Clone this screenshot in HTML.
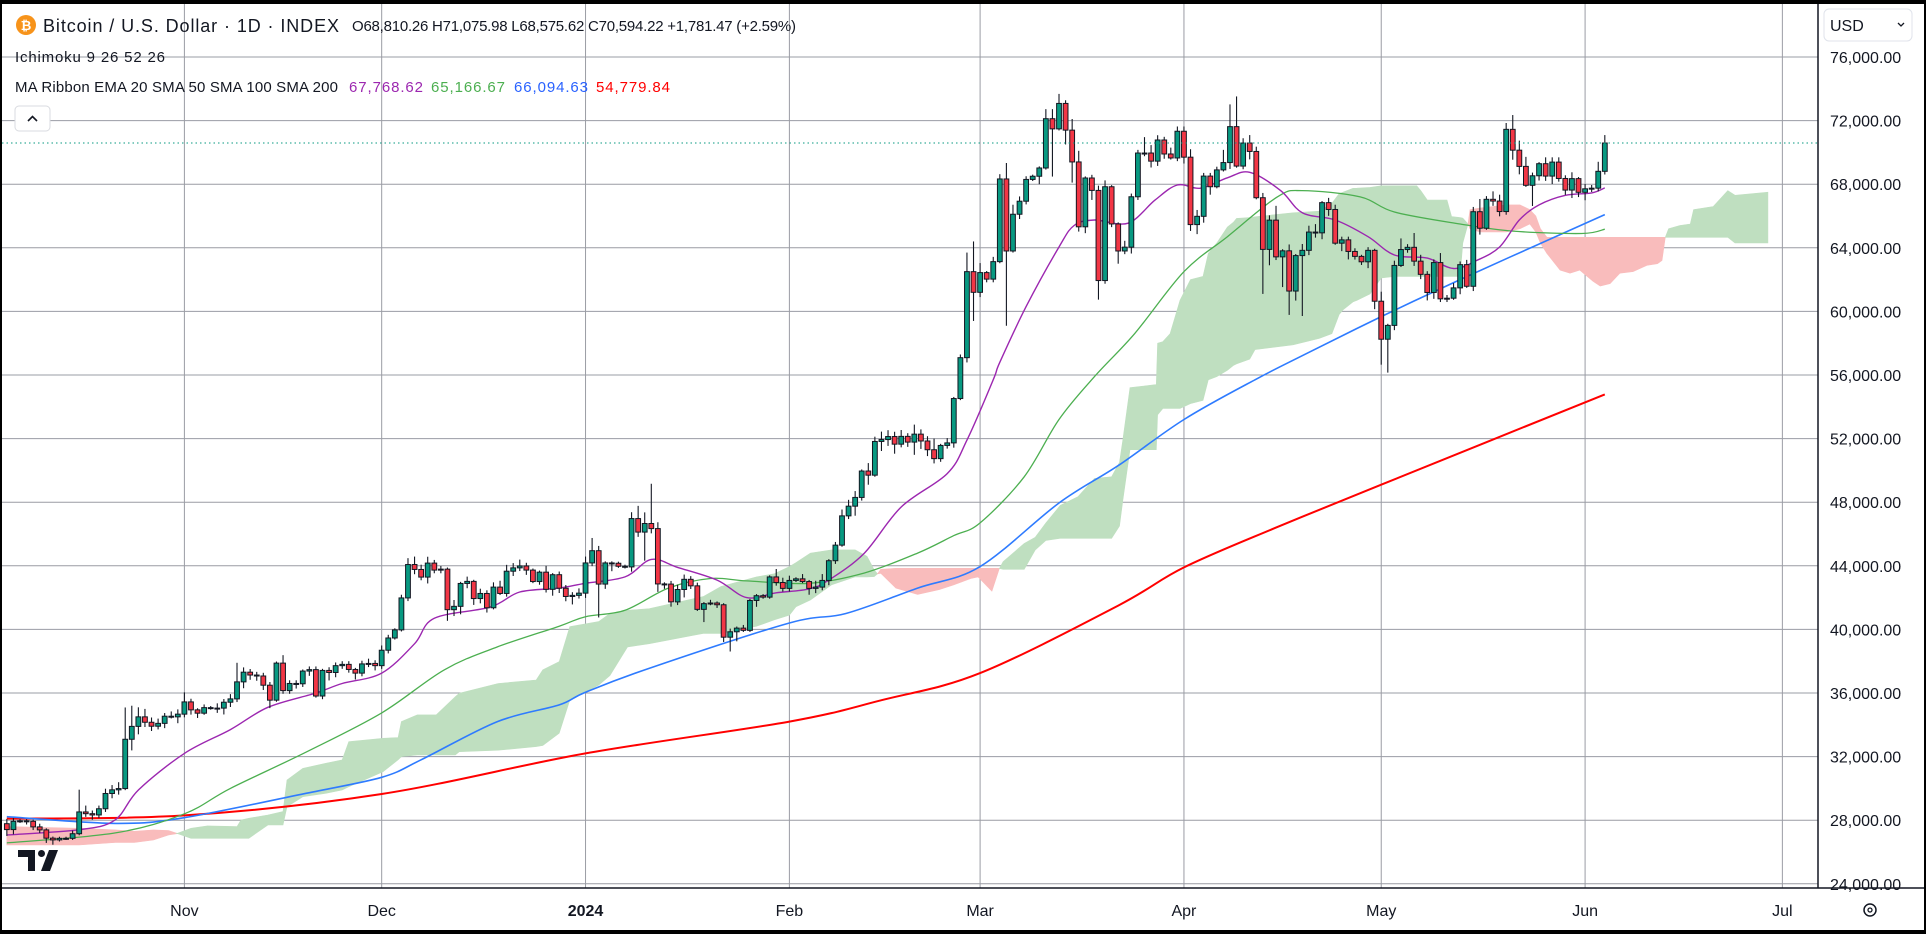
<!DOCTYPE html>
<html><head><meta charset="utf-8"><style>
html,body{margin:0;padding:0;background:#000;}
svg{display:block;}
text{font-family:"Liberation Sans",sans-serif;}
</style></head><body>
<svg id="chart" xmlns="http://www.w3.org/2000/svg" width="1926" height="934" viewBox="0 0 1926 934">
<rect x="2" y="4" width="1922" height="926" fill="#ffffff"/>
<g id="grid"></g>
<g id="cloud"></g>
<g id="mas"></g>
<g id="candles"></g>
<line x1="2" y1="143" x2="1818" y2="143" stroke="#089981" stroke-width="1" stroke-dasharray="1.5,3"/>
<g id="axes"></g>
<line x1="1818" y1="4" x2="1818" y2="888" stroke="#131722" stroke-width="1.5"/>
<line x1="2" y1="888" x2="1924" y2="888" stroke="#131722" stroke-width="1.5"/>

<g>
<circle cx="26" cy="25" r="10" fill="#F7931A"/>
<text x="26" y="30" font-size="13" font-weight="bold" fill="#fff" text-anchor="middle">₿</text>
<text x="43" y="32" font-size="18" fill="#131722" textLength="296">Bitcoin / U.S. Dollar · 1D · INDEX</text>
<text x="352" y="31" font-size="15" fill="#131722" textLength="444">O68,810.26 H71,075.98 L68,575.62 C70,594.22 +1,781.47 (+2.59%)</text>
<text x="15" y="62" font-size="15" fill="#131722" textLength="150">Ichimoku 9 26 52 26</text>
<text x="15" y="92" font-size="15" fill="#131722" textLength="323">MA Ribbon EMA 20 SMA 50 SMA 100 SMA 200</text>
<text x="349" y="92" font-size="15" fill="#9C27B0" textLength="74">67,768.62</text>
<text x="431" y="92" font-size="15" fill="#4CAF50" textLength="74">65,166.67</text>
<text x="514" y="92" font-size="15" fill="#2962FF" textLength="74">66,094.63</text>
<text x="596" y="92" font-size="15" fill="#FF0000" textLength="74">54,779.84</text>
<g>
<rect x="15" y="106" width="35" height="25" rx="4" fill="#fff" stroke="#d9dbe0"/>
<path d="M28 121 L32.5 116.5 L37 121" fill="none" stroke="#131722" stroke-width="1.6"/>
</g>
</g>

<g>
<rect x="1824" y="9" width="88" height="32" rx="5" fill="#fff" stroke="#e0e3eb"/>
<text x="1830" y="31" font-size="16" fill="#131722">USD</text>
<path d="M1898 23 L1901 26 L1904 23" fill="none" stroke="#131722" stroke-width="1.3"/>
</g>

<g>
<path d="M18 850 H35 V871 H28 V857 H18 Z" fill="#131722"/>
<circle cx="41.5" cy="853.5" r="3.5" fill="#131722"/>
<path d="M49 850 H58 L50 871 H41 Z" fill="#131722"/>
</g>

<g>
<circle cx="1870" cy="910" r="6" fill="none" stroke="#131722" stroke-width="1.5"/>
<circle cx="1870" cy="910" r="2" fill="none" stroke="#131722" stroke-width="1.3"/>
</g>
</svg>
<script>
// ---- data (thousands USD) ----
const startDay = -27; // Oct 5 2023, day 0 = Nov 1 2023
const firstOpen = 27.78;
const closesOct = [27.41,27.93,27.96,27.93,27.58,27.39,26.87,26.76,26.86,26.86,27.15,28.52,28.41,28.33,28.72,29.68,29.91,29.99,33.09,33.90,34.50,34.16,33.91,34.09,34.54,34.50,34.67];
const closesNov = [35.44,34.94,34.73,35.08,35.05,35.05,35.42,35.63,36.70,37.31,37.13,37.07,36.49,35.55,37.88,36.15,36.60,36.58,37.38,37.47,35.81,37.42,37.29,37.72,37.80,37.48,37.25,37.83,37.86,37.72];
const closesDec = [38.69,39.46,39.97,41.98,44.08,43.77,43.29,44.17,43.73,43.79,41.24,41.45,42.89,43.02,41.94,42.26,41.36,42.66,42.26,43.66,43.87,43.99,43.73,43.01,43.60,42.52,43.44,42.59,42.07,42.14,42.28];
const closesJan = [44.18,44.95,42.85,44.18,44.16,43.97,43.93,46.97,46.12,46.66,46.34,42.86,42.85,41.73,42.51,43.15,42.74,41.26,41.62,41.66,41.55,39.51,39.85,40.08,39.94,41.82,42.12,42.03,43.30,42.95,42.58];
const closesFeb = [43.08,43.18,43.01,42.58,42.66,43.08,44.32,45.30,47.14,47.75,48.30,49.96,49.70,51.82,51.94,52.13,51.65,52.14,51.78,52.28,51.85,51.30,50.74,51.57,51.73,54.52,57.09,62.50,61.20];
const closesMar = [62.44,62.03,63.13,68.33,63.80,66.11,66.93,68.30,68.50,69.02,72.12,71.48,73.08,71.40,69.40,65.32,68.39,67.61,61.94,67.84,65.50,63.80,64.04,67.21,69.96,69.96,69.45,70.78,69.90,69.65,71.33];
const closesApr = [69.70,65.46,65.98,68.51,67.84,68.90,69.36,71.62,69.14,70.59,70.06,67.15,63.90,65.74,63.43,63.81,61.28,63.51,63.84,64.99,64.94,66.84,66.41,64.29,64.50,63.77,63.46,63.12,63.84,60.64];
const closesMay = [58.25,59.12,62.89,63.89,64.03,63.16,62.33,61.19,63.07,60.79,60.83,61.48,62.94,61.58,66.27,65.23,67.05,66.94,66.28,71.45,70.14,69.12,67.93,68.53,69.29,68.51,69.39,68.36,67.63,68.35,67.49];
const closesJun = [67.71,67.75,68.81,70.59];

const wickUp = [.3,.2,.1,.1,.1,.2,.1,.1,.1,.1,.2,1.4,.4,.2,.2,.3,.3,.4,2.0,1.3,.6,.5,.3,.3,.2,.3,.3,
 .6,.2,.1,.2,.1,.3,.2,.3,1.2,.3,.2,.2,.2,.2,.1,.5,.2,.2,.1,.2,.2,.1,.2,.2,.2,.2,.1,.2,.3,.2,
 .3,.2,.1,.2,.4,.5,.3,.4,.2,.2,.1,.4,.1,.3,.1,.3,.2,.3,.4,.4,.3,.4,.2,.1,.1,.4,.1,.2,.2,.2,.3,
 .4,.8,.3,.1,.1,.1,.1,.4,.8,.7,2.5,.4,.1,.2,.3,.3,.2,.2,.1,.2,.1,.1,.2,.1,.2,.1,.1,.1,.1,.5,.3,
 .3,.1,.3,.1,.4,.4,.1,.2,.4,.4,.4,.1,.5,.3,.5,.4,.3,.4,.2,.6,.3,.3,.7,.1,.3,.1,.2,1.2,1.9,
 .6,.1,.3,.3,1.0,.6,.3,.2,.1,.1,.6,.6,.6,.2,.7,.7,.1,.2,.3,.4,.1,.1,.4,.2,.2,1.0,.5,.3,.2,.4,.3,
 .3,.5,.4,.2,.2,.2,.8,1.4,1.9,.3,.5,.3,.3,.3,.9,.1,.4,.1,.4,.4,.5,.1,.3,.3,.2,.2,.2,.1,.2,.1,
 .6,.1,.3,.7,.2,.9,.4,.2,.2,.6,.2,.3,.2,.3,.3,.8,.2,.5,.4,.4,.9,.6,.6,.2,.1,.4,.3,.3,.2,.4,.1,
 .3,.2,.6,.5];
const wickDn = [.4,.3,.1,.2,.2,.2,.3,.3,.1,.1,.1,.1,.2,.3,.2,.2,.3,.3,.1,.7,.5,.3,.3,.2,.3,.1,.4,
 .2,.3,.3,.1,.1,.3,.4,.3,.2,.4,.3,.3,.3,.5,.1,.2,.2,.3,.2,.3,.1,.2,.5,.3,.2,.2,.4,.2,.2,.3,
 .2,.2,.1,.1,.2,.3,.2,.4,.2,.2,.7,.4,.5,.3,.4,.3,.3,.1,.1,.2,.3,.2,.3,.1,.2,.2,.4,.3,.3,.5,.2,
 .3,.2,2.1,.3,.5,.1,.1,.3,.3,1.8,.3,.5,.3,.3,.2,.5,.2,.1,.8,.1,.2,.3,.9,.6,.1,.1,.4,.1,.1,.2,.2,
 .2,.1,.1,.4,.3,.2,.3,.2,.1,.2,.6,.2,.6,.1,.6,.4,.6,.2,.3,.8,.5,.4,.3,.2,.2,.3,.1,.3,1.8,
 .3,.2,.2,.1,4.7,.1,.3,.2,.1,.5,.1,3.0,.1,.9,1.3,.3,.4,.6,1.2,.2,.2,.8,.2,.4,.2,.2,.4,.3,.3,.1,.2,
 .4,.4,.6,.4,.5,.1,.1,.4,.1,.2,.5,.1,2.8,1.0,.2,1.9,1.5,.6,3.8,.3,.3,.4,.4,.1,.5,.5,.2,.2,.4,.5,
 1.6,2.1,.3,.1,.2,.3,.3,.5,.4,.2,.2,.1,.4,.1,.3,.4,.1,.3,.3,.2,.6,.5,.1,1.3,.3,.3,.5,.2,.3,.5,.3,
 .5,.2,.2,.2];

const ema20Days = [-27,-16,-10.6,-7,0,7,12.7,20,24,30,35,38,46.5,51,57,61,67,71,75,81,85.5,90,95,98,103.4,109,116,119,123,124,128,133,135.3,138.4,143.5,147.6,151,154.5,158.6,162,166.7,170,175,180,184,189,193,196.5,200,203,206,210,214,216];
const ema20Vals = [27.07,27.4,28.0,29.9,32.2,33.7,35.1,36.0,36.6,37.25,39.1,40.7,41.4,42.35,42.6,42.9,43.3,44.4,43.9,43.1,42.0,42.3,42.55,43.1,44.8,47.7,49.8,51.9,55.7,56.8,60.3,64.05,65.4,65.75,65.55,67.0,67.95,67.75,68.4,68.75,67.6,66.2,65.75,64.7,63.55,63.35,62.7,63.2,64.05,65.75,66.7,67.3,67.45,67.77];
const sma50Days = [-27,-10.5,0,7,18.6,30,39.5,47.6,57,61,67,73.6,80,85.5,95,103.4,111.5,117,121,127.7,133,138.4,144.5,152,158.6,166.2,170,178.8,184,194,202,212.5,216];
const sma50Vals = [26.57,27.2,28.4,30.0,32.3,34.75,37.45,38.9,40.2,40.8,41.2,42.6,43.2,43.05,42.9,43.55,44.8,45.9,46.7,49.6,53.2,55.9,58.6,62.5,64.7,67.2,67.6,67.2,66.25,65.5,65.05,64.9,65.17];
const sma100Days = [-27,-10.5,0,18.6,30,36,47.6,57,61,71,92,100.6,111.5,121,133,142,152,162.8,170.4,182,194,205,216];
const sma100Vals = [28.22,27.8,28.16,29.7,30.7,31.8,34.2,35.25,36.05,37.6,40.4,41.0,42.6,43.95,47.95,50.3,53.2,55.7,57.3,59.67,62.0,64.05,66.09];
const sma200Days = [-27,0,30,61,92,106,121,142,152,166,182,216];
const sma200Vals = [28.1,28.3,29.65,32.2,34.2,35.55,37.25,41.5,43.9,46.4,49.1,54.78];

const cloudDays = [-27,-16,-10.5,-7.6,-4.7,-2.4,-1.2,1,3.5,8,8.6,9.8,12.7,15,15.6,18,21.5,24,25,30.2,32.5,33,35.4,38.3,41.2,41.8,47.7,53.5,54.5,57,58.6,63,64.7,67.4,70.7,78.9,81.6,87,89.7,92,93,95.2,98.4,102,103.8,104.9,105.4,105.9,108.2,111.5,114.8,117,119.6,120.7,122.8,123.9,124.5,127.7,129.4,131,133.2,135.9,138.4,141,142.2,142.7,143.8,147.8,148,148.8,149.9,151.4,153,154.9,155.7,157,158.6,159.5,160,162,162.8,168.6,172.6,174.5,175.6,176.2,177.7,178.3,180.3,182,184,187.4,188,189,192,192.7,194,194.4,195.2,195.5,197,201,203.1,204.6,205.5,206.2,207.2,209.2,210.7,212.2,214.2,215.3,216.8,218.3,220.3,222.4,224,224.7,225.2,225.7,227.4,229,229.5,232.5,234.7,235.8,240.8];
const spanA = [26.44,26.44,26.6,26.6,26.76,27.07,27.15,27.49,27.64,27.6,28.01,28.12,28.33,28.54,30.53,31.26,31.58,31.79,32.94,33.15,33.2,34.2,34.62,34.62,35.77,35.98,36.6,36.82,37.45,37.97,40.17,40.49,41.0,41.2,41.3,42.06,42.7,43.3,43.5,43.95,44.2,44.8,45.0,45.0,44.6,43.74,43.5,43.53,42.6,42.2,42.5,42.8,43.2,43.3,42.4,43.8,44.26,45.4,45.8,46.7,47.8,48.35,49.5,49.6,50.5,51.9,55.2,55.4,58.0,58.1,58.6,60.7,62.0,62.2,63.65,64.3,65.3,65.6,65.85,65.9,65.95,66.2,66.3,66.8,67.4,67.5,67.74,67.75,67.8,67.9,67.9,67.9,67.6,67.0,67.0,65.96,65.9,65.87,65.5,65.2,65.0,65.0,65.2,65.5,65.0,64.3,63.65,62.6,62.4,62.6,61.9,61.6,61.75,62.4,62.5,62.9,63.0,63.2,64.66,65.2,65.4,65.5,66.4,66.6,67.6,67.3,67.5];
const spanB = [27.6,27.49,27.39,27.3,27.39,27.35,27.18,26.86,26.86,26.86,26.86,26.86,27.7,27.7,28.85,29.48,29.69,29.9,30.11,31.05,31.8,32.0,32.1,32.1,32.1,32.31,32.4,32.63,32.7,33.47,35.56,36.5,37.1,38.9,39.1,39.75,39.75,40.2,40.6,40.9,41.43,41.85,42.8,43.3,43.3,43.32,43.5,43.78,43.84,43.84,43.84,43.84,43.84,43.84,43.84,43.84,43.78,43.78,45.0,45.6,45.73,45.73,45.73,45.73,46.5,48.1,51.3,51.3,53.5,53.9,53.9,53.9,54.2,54.4,55.7,55.9,56.3,56.6,56.7,57.0,57.6,57.9,58.3,58.6,59.8,60.1,60.6,60.7,61.1,62.1,62.2,62.2,62.2,62.2,62.2,62.2,62.2,64.3,65.5,66.4,66.5,66.7,66.7,66.4,66.0,65.2,64.66,64.66,64.66,64.66,64.66,64.66,64.66,64.66,64.66,64.66,64.66,64.66,64.66,64.66,64.66,64.66,64.66,64.66,64.66,64.3,64.3];

const priceTicks = [76,72,68,64,60,56,52,48,44,40,36,32,28,24];
const priceTickLabels = ["76,000.00","72,000.00","68,000.00","64,000.00","60,000.00","56,000.00","52,000.00","48,000.00","44,000.00","40,000.00","36,000.00","32,000.00","28,000.00","24,000.00"];
const timeTickDays = [0,30,61,92,121,152,182,213,243];
const timeTickLabels = ["Nov","Dec","2024","Feb","Mar","Apr","May","Jun","Jul"];

// ---- scales ----
const NS = "http://www.w3.org/2000/svg";
function xDay(d){ return 184.4 + d*6.576; }
function yP(k){ return 57 + (76 - k)/4*63.6; }
function mk(tag, attrs, parent){
  const e = document.createElementNS(NS, tag);
  for (const k in attrs) e.setAttribute(k, attrs[k]);
  parent.appendChild(e);
  return e;
}

// grid + axes
const grid = document.getElementById('grid');
const axes = document.getElementById('axes');
priceTicks.forEach((p, i) => {
  const y = yP(p);
  const gl = mk('line', {x1:2, y1:y, x2:1818, y2:y, stroke:'#9a9ca4', 'stroke-width':1}, grid);
  
  
  const t = mk('text', {x:1830, y:y+6, 'font-size':16, fill:'#131722'}, axes);
  t.textContent = priceTickLabels[i];
  
  
});
timeTickDays.forEach((d, i) => {
  const x = xDay(d);
  const gl = mk('line', {x1:x, y1:4, x2:x, y2:888, stroke:'#9a9ca4', 'stroke-width':1}, grid);
  
  
  const t = mk('text', {x:x, y:916, 'font-size':16, fill:'#131722', 'text-anchor':'middle', 'font-weight': timeTickLabels[i]==='2024' ? 'bold' : 'normal'}, axes);
  t.textContent = timeTickLabels[i];
  
  
});

// cloud: group consecutive segments by colour
const cloud = document.getElementById('cloud');
let seg = null;
function flush(){
  if (!seg) return;
  const pts = seg.top.concat(seg.bot.reverse()).map(p => p[0].toFixed(1)+','+p[1].toFixed(1)).join(' ');
  const poly = mk('polygon', {points:pts, fill: seg.green ? '#bfdfc0' : '#f9bcbc', stroke: seg.green ? '#bfdfc0' : '#f9bcbc', 'stroke-width':0.6}, cloud);
  
  
  seg = null;
}
for (let i = 0; i < cloudDays.length - 1; i++){
  const green = (spanA[i] + spanA[i+1]) >= (spanB[i] + spanB[i+1]);
  if (!seg || seg.green !== green){
    flush();
    seg = {green, top:[[xDay(cloudDays[i]), yP(spanA[i])]], bot:[[xDay(cloudDays[i]), yP(spanB[i])]]};
  }
  seg.top.push([xDay(cloudDays[i+1]), yP(spanA[i+1])]);
  seg.bot.push([xDay(cloudDays[i+1]), yP(spanB[i+1])]);
}
flush();

// moving averages (smoothed Catmull-Rom through sampled values)
const mas = document.getElementById('mas');
function drawLine(days, vals, color, w, name){
  const P = days.map((d, i) => [xDay(d), yP(vals[i])]);
  let d = 'M' + P[0][0].toFixed(1) + ',' + P[0][1].toFixed(1);
  for (let i = 0; i < P.length - 1; i++){
    const p0 = P[Math.max(0, i-1)], p1 = P[i], p2 = P[i+1], p3 = P[Math.min(P.length-1, i+2)];
    const c1 = [p1[0] + (p2[0]-p0[0])/6, p1[1] + (p2[1]-p0[1])/6];
    const c2 = [p2[0] - (p3[0]-p1[0])/6, p2[1] - (p3[1]-p1[1])/6];
    d += ' C' + c1[0].toFixed(1)+','+c1[1].toFixed(1)+' '+c2[0].toFixed(1)+','+c2[1].toFixed(1)+' '+p2[0].toFixed(1)+','+p2[1].toFixed(1);
  }
  const pl = mk('path', {d:d, fill:'none', stroke:color, 'stroke-width':w, 'stroke-linejoin':'round'}, mas);
  
  
}
drawLine(sma200Days, sma200Vals, '#FF0000', 2, 'sma200-line');
drawLine(sma100Days, sma100Vals, '#2E7BFF', 1.6, 'sma100-line');
drawLine(sma50Days, sma50Vals, '#4CAF50', 1.3, 'sma50-line');
drawLine(ema20Days, ema20Vals, '#9C27B0', 1.4, 'ema20-line');

// candles
const closes = [].concat(closesOct, closesNov, closesDec, closesJan, closesFeb, closesMar, closesApr, closesMay, closesJun);
const cg = document.getElementById('candles');
let prev = firstOpen;
closes.forEach((c, i) => {
  const o = prev; prev = c;
  const d = startDay + i;
  const x = xDay(d);
  const hi = Math.max(o, c) + wickUp[i];
  const lo = Math.min(o, c) - wickDn[i];
  const g = mk('g', {}, cg);
  
  
  mk('line', {x1:x, y1:yP(hi), x2:x, y2:yP(lo), stroke:'#131722', 'stroke-width':1.1}, g);
  const top = yP(Math.max(o, c)), bot = yP(Math.min(o, c));
  mk('rect', {x:x-2.4, y:top, width:4.8, height:Math.max(1, bot-top), fill: c >= o ? '#089981' : '#F23645', stroke:'#131722', 'stroke-width':1}, g);
});
</script>
</body></html>
